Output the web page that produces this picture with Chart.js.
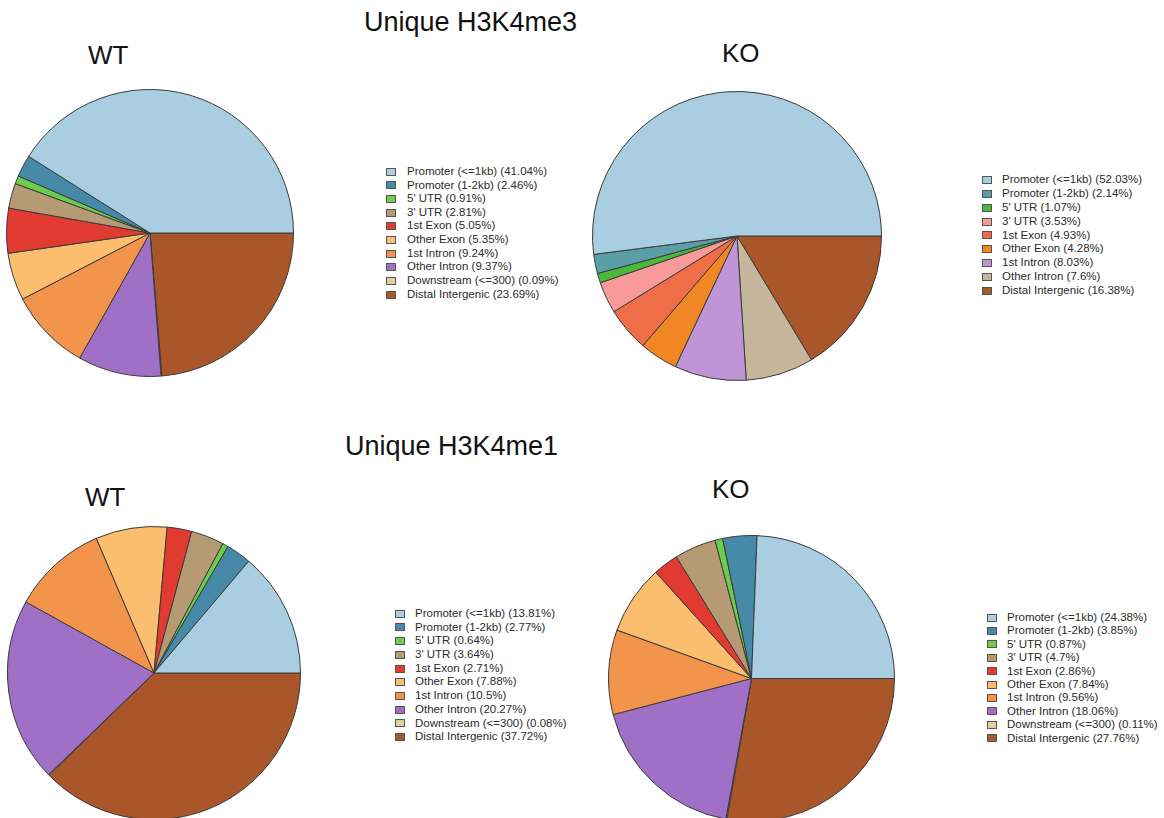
<!DOCTYPE html>
<html>
<head>
<meta charset="utf-8">
<script src="https://cdn.jsdelivr.net/npm/chart.js@4.4.1/dist/chart.umd.min.js"></script>
<style>
  html, body { margin: 0; padding: 0; background: #fff; }
  #page {
    position: relative; width: 1164px; height: 818px; overflow: hidden;
    font-family: "Liberation Sans", Arial, Helvetica, sans-serif; color: #111;
  }
  .heading { position: absolute; font-size: 27px; line-height: 27px; white-space: nowrap; }
  .group { position: absolute; font-size: 26px; line-height: 26px; white-space: nowrap; }
  .pie { position: absolute; }
  .legend { position: absolute; font-size: 11.5px; color: #2b2b2b; }
  .legend .row { position: relative; white-space: nowrap; }
  .legend .box { position: absolute; left: 0; width: 8px; height: 6px; border: 1px solid #555; }
  .legend .txt { position: absolute; }
</style>
</head>
<body>
<div id="page">
  <div class="heading" style="left:364px; top:9px;">Unique H3K4me3</div>
  <div class="group" style="left:88px; top:42px;">WT</div>
  <div class="group" style="left:722px; top:40px;">KO</div>

  <div class="heading" style="left:345px; top:433px;">Unique H3K4me1</div>
  <div class="group" style="left:85px; top:484px;">WT</div>
  <div class="group" style="left:712px; top:476px;">KO</div>

  <canvas id="pieMe3WT" class="pie"></canvas>
  <canvas id="pieMe3KO" class="pie"></canvas>
  <canvas id="pieMe1WT" class="pie"></canvas>
  <canvas id="pieMe1KO" class="pie"></canvas>

  <div id="legMe3WT" class="legend"></div>
  <div id="legMe3KO" class="legend"></div>
  <div id="legMe1WT" class="legend"></div>
  <div id="legMe1KO" class="legend"></div>
</div>

<script>
// Genomic feature categories (annotation order, drawn counter-clockwise from 3 o'clock)
const featuresAll = [
  'Promoter (<=1kb)', 'Promoter (1-2kb)', "5' UTR", "3' UTR", '1st Exon',
  'Other Exon', '1st Intron', 'Other Intron', 'Downstream (<=300)', 'Distal Intergenic'
];
const featuresNoDownstream = [
  'Promoter (<=1kb)', 'Promoter (1-2kb)', "5' UTR", "3' UTR", '1st Exon',
  'Other Exon', '1st Intron', 'Other Intron', 'Distal Intergenic'
];

// Percent of peaks per feature
const me3WT = [41.04, 2.46, 0.91, 2.81, 5.05, 5.35, 9.24, 9.37, 0.09, 23.69];
const me3KO = [52.03, 2.14, 1.07, 3.53, 4.93, 4.28, 8.03, 7.6, 16.38];
const me1WT = [13.81, 2.77, 0.64, 3.64, 2.71, 7.88, 10.5, 20.27, 0.08, 37.72];
const me1KO = [24.38, 3.85, 0.87, 4.7, 2.86, 7.84, 9.56, 18.06, 0.11, 27.76];

// Palettes ramped over the Paired scheme for 10 and 9 categories
const palette10 = ['#a9cee2', '#478aa7', '#6acd4b', '#b69a74', '#e13a31',
                   '#fbbd6e', '#f2944b', '#a070c7', '#dad49b', '#a9572a'];
const palette9  = ['#a9cee2', '#5a9fa6', '#4ab93a', '#f89a99', '#ef6e48',
                   '#f08724', '#bf95d8', '#c7b69b', '#a9572a'];

// Legend rendered as HTML from the chart's own legend items
const htmlLegend = {
  id: 'htmlLegend',
  afterUpdate(chart, args, opts) {
    const box = document.getElementById(opts.containerID);
    box.innerHTML = '';
    const items = Chart.overrides.pie.plugins.legend.labels.generateLabels(chart).reverse();
    items.forEach(item => {
      const row = document.createElement('div');
      row.className = 'row';
      row.style.height = opts.rowHeight + 'px';
      const sw = document.createElement('span');
      sw.className = 'box';
      sw.style.background = item.fillStyle;
      sw.style.top = ((opts.rowHeight - 8) / 2) + 'px';
      const tx = document.createElement('span');
      tx.className = 'txt';
      tx.style.left = opts.textOffset + 'px';
      tx.style.lineHeight = opts.rowHeight + 'px';
      tx.textContent = item.text;
      row.appendChild(sw);
      row.appendChild(tx);
      box.appendChild(row);
    });
  }
};

function drawPie(cfg) {
  const { canvasID, legendID, features, values, colors, cx, cy, r, legLeft, legFirst, rowHeight, textOffset } = cfg;
  const size = Math.round(2 * r + 2);
  const canvas = document.getElementById(canvasID);
  canvas.width = size;
  canvas.height = size;
  canvas.style.width = size + 'px';
  canvas.style.height = size + 'px';
  canvas.style.left = (cx - size / 2) + 'px';
  canvas.style.top = (cy - size / 2) + 'px';

  const leg = document.getElementById(legendID);
  leg.style.left = legLeft + 'px';
  leg.style.top = (legFirst - rowHeight / 2) + 'px';

  const labels = features.map((f, i) => `${f} (${values[i]}%)`);
  // Chart.js sweeps clockwise, so the series is reversed to run counter-clockwise
  return new Chart(canvas, {
    type: 'pie',
    data: {
      labels: labels.slice().reverse(),
      datasets: [{
        data: values.slice().reverse(),
        backgroundColor: colors.slice().reverse(),
        borderColor: '#3a3a3a',
        borderWidth: 1
      }]
    },
    options: {
      responsive: false,
      animation: false,
      rotation: 90,
      layout: { padding: 0 },
      plugins: {
        legend: { display: false },
        tooltip: { enabled: false },
        htmlLegend: { containerID: legendID, rowHeight, textOffset }
      }
    },
    plugins: [htmlLegend]
  });
}

drawPie({ canvasID: 'pieMe3WT', legendID: 'legMe3WT', features: featuresAll, values: me3WT, colors: palette10,
          cx: 150, cy: 232.5, r: 143, legLeft: 386, legFirst: 171.7, rowHeight: 13.67, textOffset: 21 });
drawPie({ canvasID: 'pieMe3KO', legendID: 'legMe3KO', features: featuresNoDownstream, values: me3KO, colors: palette9,
          cx: 736.5, cy: 236, r: 144, legLeft: 982, legFirst: 180, rowHeight: 13.87, textOffset: 20 });
drawPie({ canvasID: 'pieMe1WT', legendID: 'legMe1WT', features: featuresAll, values: me1WT, colors: palette10,
          cx: 154, cy: 673, r: 146, legLeft: 395, legFirst: 613.7, rowHeight: 13.73, textOffset: 20 });
drawPie({ canvasID: 'pieMe1KO', legendID: 'legMe1KO', features: featuresAll, values: me1KO, colors: palette10,
          cx: 751.5, cy: 678, r: 142.5, legLeft: 987, legFirst: 617.7, rowHeight: 13.4, textOffset: 20 });
</script>
</body>
</html>
